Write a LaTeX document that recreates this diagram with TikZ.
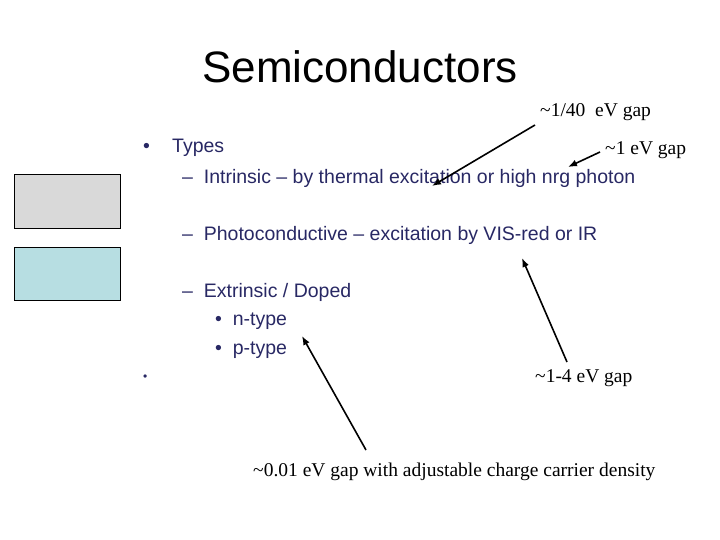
\documentclass[tikz,border=0pt]{standalone}
\usepackage{fontspec}
\usetikzlibrary{arrows.meta}
\setmainfont{Liberation Sans}
\newfontfamily\serifann{Liberation Serif}
\definecolor{navy}{RGB}{40,40,100}
\begin{document}
\begin{tikzpicture}[x=1pt,y=-1pt,
  body/.style={anchor=west,inner sep=0pt,text=navy,font=\fontsize{19.5}{22}\selectfont},
  ann/.style={anchor=west,inner sep=0pt,font=\serifann\fontsize{19.5}{22}\selectfont},
  arr/.style={-{Latex[length=9pt,width=7pt]},line width=1.6pt}]
\useasboundingbox (0,0) rectangle (720,540);
\node[inner sep=0pt,font=\fontsize{44}{50}\selectfont] (title) at (360,67) {Semiconductors};
\draw[fill={rgb,255:red,217;green,217;blue,217}] (14,174) rectangle (120,228);
\draw[fill={rgb,255:red,183;green,222;blue,226}] (14,247) rectangle (120,300);
\node[body] (b1) at (143,148) {\textbullet};
\node[body] (types) at (172,148) {Types};
\node[body] (intr) at (182,178) {--\ \ Intrinsic -- by thermal excitation or high nrg photon};
\node[body] (photo) at (182,235) {--\ \ Photoconductive -- excitation by VIS-red or IR};
\node[body] (extr) at (182,292) {--\ \ Extrinsic / Doped};
\node[body] (nt) at (215,321) {\textbullet\ \ n-type};
\node[body] (pt) at (215,350) {\textbullet\ \ p-type};
\node[body,font=\fontsize{12}{14}\selectfont] (b2) at (143,378) {\textbullet};
\node[ann] (a1) at (540,112) {\textasciitilde1/40\ \ eV gap};
\node[ann] (a2) at (605,150) {\textasciitilde1 eV gap};
\node[ann] (a3) at (535,378) {\textasciitilde1-4 eV gap};
\node[ann] (a4) at (253,472) {\textasciitilde0.01 eV gap with adjustable charge carrier density};
\coordinate (s1) at (535,125); \coordinate (e1) at (432,186);
\coordinate (s2) at (600,152); \coordinate (e2) at (568,167);
\coordinate (s3) at (567,362); \coordinate (e3) at (522,258);
\coordinate (s4) at (366,450); \coordinate (e4) at (302,336);
\draw[arr] (s1) -- (e1);
\draw[arr] (s2) -- (e2);
\draw[arr] (s3) -- (e3);
\draw[arr] (s4) -- (e4);
\end{tikzpicture}
\end{document}
